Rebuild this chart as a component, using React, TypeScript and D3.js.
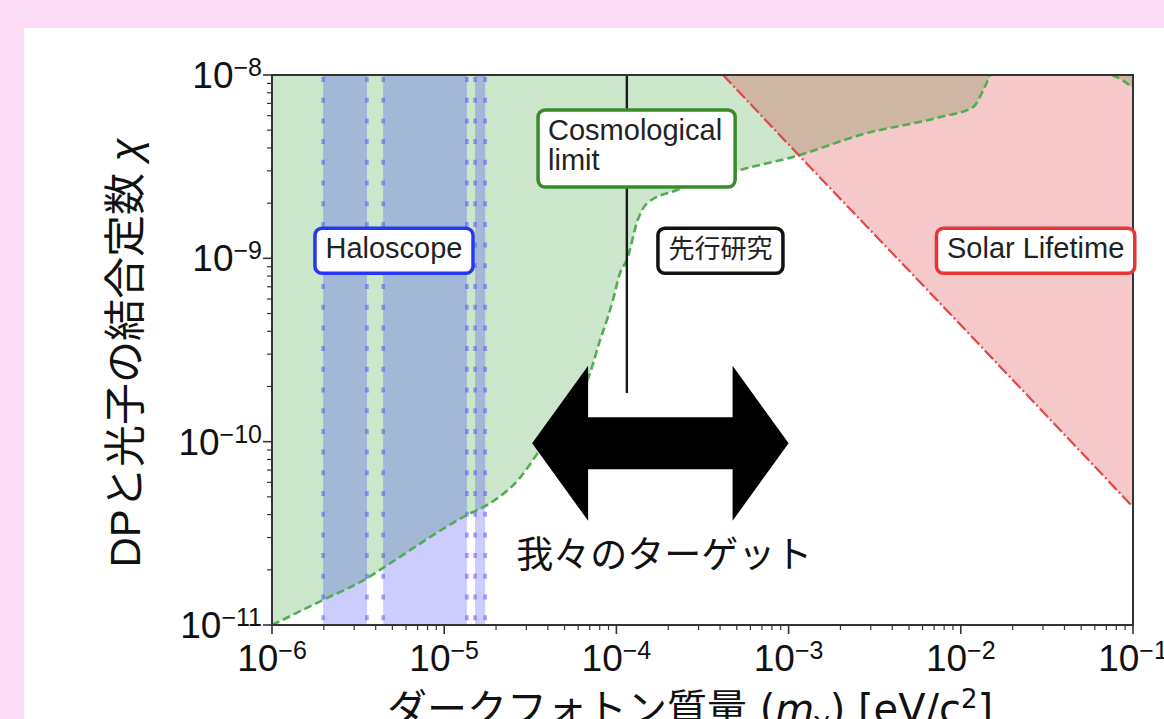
import React, { useEffect, useRef } from 'react';
import * as d3 from 'd3';

const W = 1164;
const H = 719;

// axis ticks
const massTicks = [1e-6, 1e-5, 1e-4, 1e-3, 1e-2, 1e-1];
const massTickExp = ['−6', '−5', '−4', '−3', '−2', '−1'];
const chiTicks = [1e-11, 1e-10, 1e-9, 1e-8];
const chiTickExp = ['−11', '−10', '−9', '−8'];

// cosmological limit / previous research boundary (green)
const cosmoMass = [1e-6, 1.98e-6, 3.56e-6, 4.42e-6, 1.355e-5, 1.85e-5, 2.75e-5, 3.6e-5, 5.16e-5, 7.03e-5, 8.04e-5, 8.93e-5, 9.55e-5, 1.05e-4, 1.15e-4, 1.33e-4, 1.51e-4, 2.25e-4, 5.22e-4, 1.16e-3, 2.6e-3, 7.57e-3, 1.18e-2, 1.35e-2, 1.48e-2];
const cosmoChi = [1e-11, 1.37e-11, 1.8e-11, 2.05e-11, 3.98e-11, 4.62e-11, 6.34e-11, 9.0e-11, 1.36e-10, 2.37e-10, 3.59e-10, 4.79e-10, 5.93e-10, 8.32e-10, 9.79e-10, 1.62e-9, 2.0e-9, 2.36e-9, 3.03e-9, 3.66e-9, 4.71e-9, 5.9e-9, 6.68e-9, 8.28e-9, 1e-8];
const cosmoCornerMass = [7.55e-2, 8.63e-2, 1e-1];
const cosmoCornerChi = [1e-8, 9.4e-9, 8.5e-9];

// solar lifetime boundary (red)
const solarMass = [4.16e-4, 1.16e-3, 6.9e-3, 2.42e-2, 1e-1];
const solarChi = [1e-8, 3.61e-9, 6.24e-10, 1.8e-10, 4.4e-11];

// haloscope bands
const haloLow = [1.98e-6, 4.42e-6, 1.51e-5];
const haloHigh = [3.56e-6, 1.355e-5, 1.73e-5];

// cosmological limit vertical marker
const cosmoLineMass = 1.15e-4;
const cosmoLineChi = [1e-8, 1.84e-10];

// our target range (double arrow)
const targetMass = [3.24e-5, 1.0e-3];
const targetChi = 9.8e-11;

// annotation labels
const boxLabels = ['Haloscope', '先行研究', 'Solar Lifetime'];
const boxMass = [5.11e-6, 4.02e-4, 2.72e-2];
const boxChi = [1.1e-9, 1.1e-9, 1.1e-9];
const boxColors = ['#2438f0', '#111111', '#e83436'];
const cosmoLabelLines = ['Cosmological', 'limit'];
const cosmoLabelMass = 4.01e-5;
const cosmoLabelChi = 4.42e-9;

export default function App() {
  const ref = useRef<SVGSVGElement>(null);

  useEffect(() => {
    document.body.style.margin = '0';
    document.body.style.overflow = 'hidden';
    const svg = d3.select(ref.current);
    svg.selectAll('*').remove();

    const L = 272, R = 1133, T = 75, B = 625;
    const x = d3.scaleLog().domain([1e-6, 1e-1]).range([L, R]);
    const y = d3.scaleLog().domain([1e-11, 1e-8]).range([B, T]);

    const latin = "'Liberation Sans', Arial, Helvetica, sans-serif";
    const cjk = "'Noto Sans CJK JP', sans-serif";
    const mixed = "'Liberation Sans', 'Noto Sans CJK JP', sans-serif";

    svg.append('rect').attr('width', W).attr('height', H).attr('fill', '#fcdcf4');
    svg.append('rect').attr('x', 24).attr('y', 28).attr('width', W - 24).attr('height', H - 28).attr('fill', '#ffffff');

    const defs = svg.append('defs');
    defs.append('clipPath').attr('id', 'plotclip')
      .append('rect').attr('x', L).attr('y', T).attr('width', R - L).attr('height', B - T);
    const g = svg.append('g').attr('clip-path', 'url(#plotclip)');

    type P = [number, number];
    const cosmoPts: P[] = cosmoMass.map((m, i) => [m, cosmoChi[i]]);
    const cornerPts: P[] = cosmoCornerMass.map((m, i) => [m, cosmoCornerChi[i]]);
    const solarPts: P[] = solarMass.map((m, i) => [m, solarChi[i]]);

    const area = d3.area<P>().x(d => x(d[0])).y0(d => y(d[1])).y1(T).curve(d3.curveMonotoneX);
    const line = d3.line<P>().x(d => x(d[0])).y(d => y(d[1])).curve(d3.curveMonotoneX);

    // fills
    g.append('path').attr('d', area(cosmoPts)).attr('fill', 'rgb(0,128,0)').attr('fill-opacity', 0.2);
    g.append('path').attr('d', area(cornerPts)).attr('fill', 'rgb(0,128,0)').attr('fill-opacity', 0.2);
    g.append('path').attr('d', area(solarPts)).attr('fill', '#d62728').attr('fill-opacity', 0.25);
    haloLow.forEach((lo, i) => {
      g.append('rect')
        .attr('x', x(lo)).attr('y', T)
        .attr('width', x(haloHigh[i]) - x(lo)).attr('height', B - T)
        .attr('fill', 'rgb(0,0,255)').attr('fill-opacity', 0.2);
    });

    // boundary lines
    [...haloLow, ...haloHigh].forEach(v => {
      g.append('line')
        .attr('x1', x(v)).attr('x2', x(v)).attr('y1', T + 2).attr('y2', B)
        .attr('stroke', '#3c3cff').attr('stroke-opacity', 0.45)
        .attr('stroke-width', 3.6).attr('stroke-dasharray', '5,15.7');
    });
    g.append('path').attr('d', line(cosmoPts)).attr('fill', 'none')
      .attr('stroke', '#4fae4f').attr('stroke-width', 2.6).attr('stroke-dasharray', '8,4');
    g.append('path').attr('d', line(cornerPts)).attr('fill', 'none')
      .attr('stroke', '#4fae4f').attr('stroke-width', 2.6).attr('stroke-dasharray', '8,4');
    g.append('path').attr('d', line(solarPts)).attr('fill', 'none')
      .attr('stroke', '#e24646').attr('stroke-width', 2.2).attr('stroke-dasharray', '12,3,2,3');

    // cosmological vertical line
    g.append('line')
      .attr('x1', x(cosmoLineMass)).attr('x2', x(cosmoLineMass))
      .attr('y1', y(cosmoLineChi[0])).attr('y2', y(cosmoLineChi[1]))
      .attr('stroke', '#1a1a1a').attr('stroke-width', 2.4);

    // spines
    svg.append('rect').attr('x', L).attr('y', T).attr('width', R - L).attr('height', B - T)
      .attr('fill', 'none').attr('stroke', '#333').attr('stroke-width', 2);

    // ticks
    const tickColor = '#333';
    massTicks.forEach((v, i) => {
      svg.append('line').attr('x1', x(v)).attr('x2', x(v)).attr('y1', B).attr('y2', B + 9)
        .attr('stroke', tickColor).attr('stroke-width', 1.6);
      const t = svg.append('text').attr('x', x(v)).attr('y', B + 46)
        .attr('text-anchor', 'middle').attr('font-family', latin).attr('font-size', 37).attr('fill', '#111');
      t.append('tspan').text('10');
      t.append('tspan').attr('dy', -12).attr('font-size', 25).text(massTickExp[i]);
      if (i < massTicks.length - 1) {
        for (let j = 2; j <= 9; j++) {
          const mv = v * j;
          svg.append('line').attr('x1', x(mv)).attr('x2', x(mv)).attr('y1', B).attr('y2', B + 5)
            .attr('stroke', tickColor).attr('stroke-width', 1.2);
        }
      }
    });
    chiTicks.forEach((v, i) => {
      svg.append('line').attr('x1', L - 9).attr('x2', L).attr('y1', y(v)).attr('y2', y(v))
        .attr('stroke', tickColor).attr('stroke-width', 1.6);
      const t = svg.append('text').attr('x', 262).attr('y', y(v) + 13)
        .attr('text-anchor', 'end').attr('font-family', latin).attr('font-size', 37).attr('fill', '#111');
      t.append('tspan').text('10');
      t.append('tspan').attr('dy', -12).attr('font-size', 25).text(chiTickExp[i]);
      if (i < chiTicks.length - 1) {
        for (let j = 2; j <= 9; j++) {
          const cv = v * j;
          svg.append('line').attr('x1', L - 5).attr('x2', L).attr('y1', y(cv)).attr('y2', y(cv))
            .attr('stroke', tickColor).attr('stroke-width', 1.2);
        }
      }
    });

    // axis labels
    const yl = svg.append('text').attr('transform', `translate(140,353) rotate(-90)`)
      .attr('text-anchor', 'middle').attr('font-family', mixed).attr('font-size', 42).attr('fill', '#111');
    yl.append('tspan').text('DPと光子の結合定数 ');
    yl.append('tspan').attr('font-style', 'italic').text('χ');

    const xl = svg.append('text').attr('x', 387).attr('y', 723)
      .attr('font-family', "'DejaVu Sans', sans-serif").attr('font-size', 40).attr('fill', '#111');
    xl.append('tspan').attr('font-family', cjk).text('ダークフォトン質量');
    xl.append('tspan').text(' (');
    xl.append('tspan').attr('font-style', 'italic').text('m');
    xl.append('tspan').attr('font-size', 26).attr('dy', 8).text('γ');
    xl.append('tspan').attr('dy', -8).text(') [eV/c');
    xl.append('tspan').attr('font-size', 26).attr('dy', -15).text('2');
    xl.append('tspan').attr('dy', 15).text(']');

    // single-line boxed labels
    boxLabels.forEach((lab, i) => {
      const cx = x(boxMass[i]);
      const cy = y(boxChi[i]);
      const isCjk = /[\u3040-\u9fff]/.test(lab);
      const grp = svg.append('g');
      const rect = grp.append('rect');
      const t = grp.append('text').attr('x', cx).attr('y', cy + 7)
        .attr('text-anchor', 'middle')
        .attr('font-family', isCjk ? cjk : latin)
        .attr('font-size', isCjk ? 26 : 29).attr('fill', '#222').text(lab);
      const tw = (t.node() as SVGTextElement).getComputedTextLength();
      const padX = 10.5;
      rect.attr('x', cx - tw / 2 - padX).attr('y', cy - 22.5)
        .attr('width', tw + 2 * padX).attr('height', 45)
        .attr('rx', 7).attr('fill', '#fff')
        .attr('stroke', boxColors[i]).attr('stroke-width', 3.5);
    });

    // cosmological limit two-line box
    {
      const lx = x(cosmoLabelMass);
      const by = y(cosmoLabelChi);
      const grp = svg.append('g');
      const rect = grp.append('rect');
      let maxW = 0;
      cosmoLabelLines.forEach((s, k) => {
        const t = grp.append('text').attr('x', lx).attr('y', by + k * 30)
          .attr('font-family', latin).attr('font-size', 29).attr('fill', '#222').text(s);
        maxW = Math.max(maxW, (t.node() as SVGTextElement).getComputedTextLength());
      });
      rect.attr('x', lx - 10).attr('y', by - 30)
        .attr('width', maxW + 23).attr('height', 77)
        .attr('rx', 7).attr('fill', '#fff')
        .attr('stroke', '#3a8a2c').attr('stroke-width', 3.5);
    }

    // double arrow
    const ax0 = x(targetMass[0]);
    const ax1 = x(targetMass[1]);
    const ayc = y(targetChi);
    const headLen = 56, headHalf = 77.5, shaftHalf = 26;
    const arrowPts: [number, number][] = [
      [ax0, ayc], [ax0 + headLen, ayc - headHalf], [ax0 + headLen, ayc - shaftHalf],
      [ax1 - headLen, ayc - shaftHalf], [ax1 - headLen, ayc - headHalf], [ax1, ayc],
      [ax1 - headLen, ayc + headHalf], [ax1 - headLen, ayc + shaftHalf],
      [ax0 + headLen, ayc + shaftHalf], [ax0 + headLen, ayc + headHalf],
    ];
    svg.append('polygon').attr('points', arrowPts.map(p => p.join(',')).join(' ')).attr('fill', '#000');
    svg.append('text').attr('x', (ax0 + ax1) / 2 + 4).attr('y', ayc + 125)
      .attr('text-anchor', 'middle').attr('font-family', cjk).attr('font-size', 37)
      .attr('fill', '#111').text('我々のターゲット');
  }, []);

  return (
    <svg
      ref={ref}
      width={W}
      height={H}
      style={{ position: 'absolute', left: 0, top: 0, display: 'block' }}
    />
  );
}
